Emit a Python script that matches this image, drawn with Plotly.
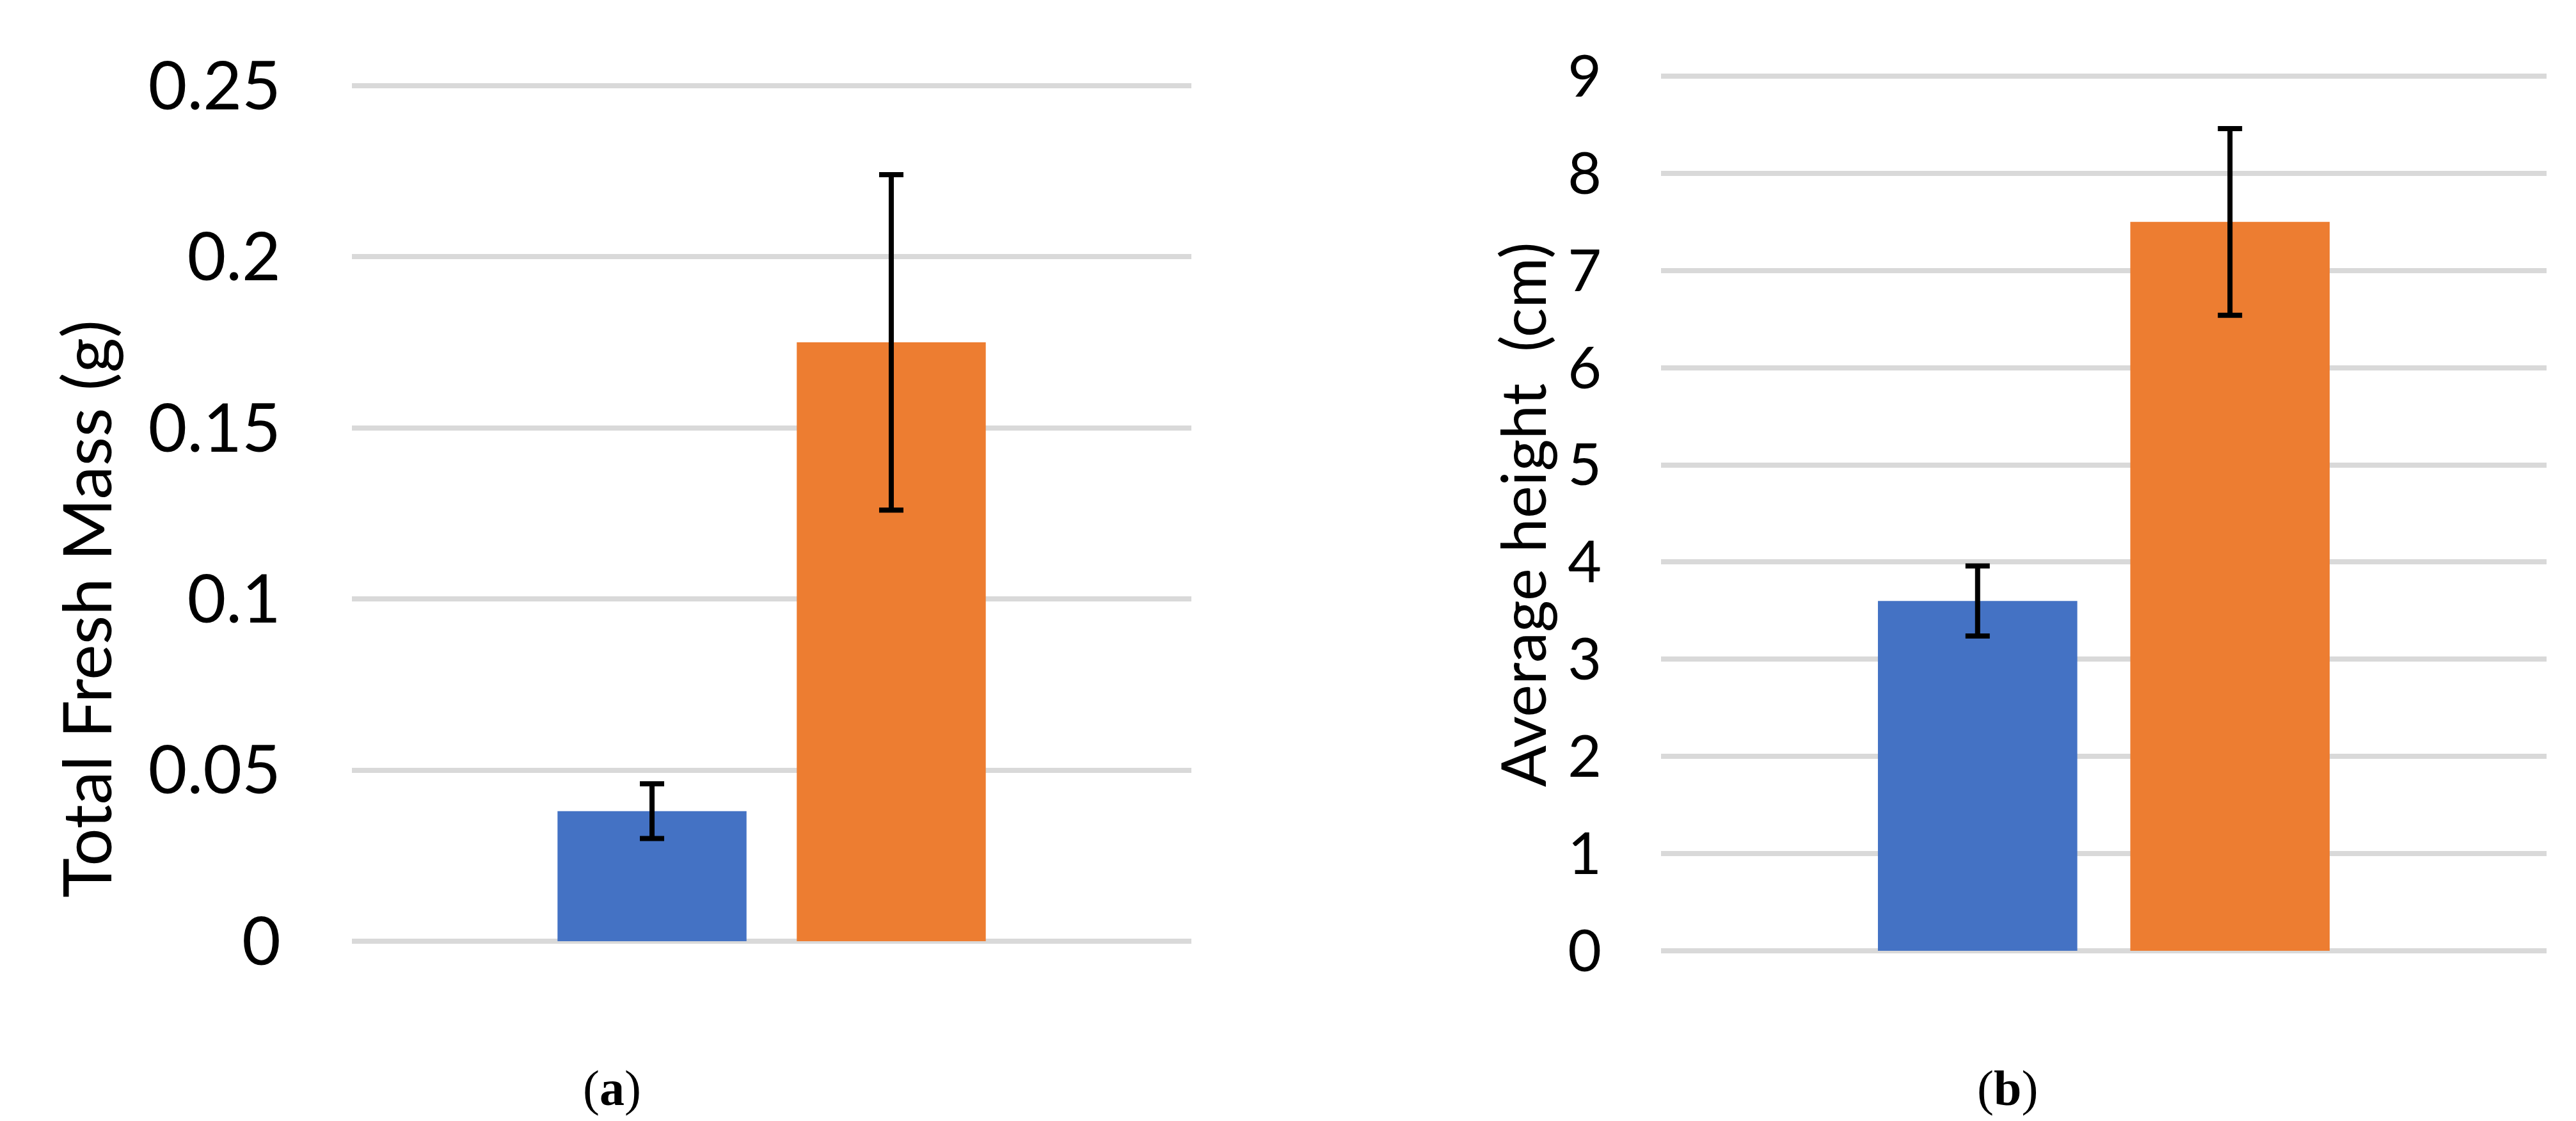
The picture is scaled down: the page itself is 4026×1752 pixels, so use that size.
import plotly.graph_objects as go
from plotly.subplots import make_subplots

# values
groups = ["Group 1", "Group 2"]
colors = ["#4472C4", "#ED7D31"]

mass_mean = [0.038, 0.175]
mass_err = [0.008, 0.049]
mass_ticks = [0, 0.05, 0.1, 0.15, 0.2, 0.25]
mass_ticktext = ["0", "0.05", "0.1", "0.15", "0.2", "0.25"]

height_mean = [3.6, 7.5]
height_err = [0.36, 0.96]
height_ticks = list(range(0, 10))
height_ticktext = [str(t) for t in height_ticks]

W, H = 4026, 1752
OFF = 8  # page body margin
grid_col = "#D9D9D9"
font_sans = "Lato, 'Open Sans', sans-serif"


def px(x):
    return (x - OFF) / W


def py(y):
    return (H - (y - OFF)) / H


fig = make_subplots(rows=1, cols=2)

for i, g in enumerate(groups):
    fig.add_trace(go.Bar(
        x=[""], y=[mass_mean[i]], name=g,
        marker=dict(color=colors[i], line=dict(width=0)),
        error_y=dict(type="data", array=[mass_err[i]], color="black",
                     thickness=8, width=19),
        showlegend=False
    ), row=1, col=1)
    fig.add_trace(go.Bar(
        x=[""], y=[height_mean[i]], name=g,
        marker=dict(color=colors[i], line=dict(width=0)),
        error_y=dict(type="data", array=[height_err[i]], color="black",
                     thickness=8, width=19),
        showlegend=False
    ), row=1, col=2)

fig.update_xaxes(showticklabels=False, showgrid=False, zeroline=False,
                 showline=False, automargin=False)


def padded(top_px, bot_px, lo, hi, pad=6):
    # widen range and domain a few pixels so the edge gridlines are drawn
    per = (bot_px - top_px) / (hi - lo)
    d = pad / per
    return ([py(bot_px + pad), py(top_px - pad)], [lo - d, hi + d])


dom_a, rng_a = padded(134, 1471, 0, 0.25)
dom_b, rng_b = padded(119, 1486, 0, 9)

# panel (a)
fig.update_xaxes(domain=[px(550), px(1862)], row=1, col=1)
fig.update_yaxes(domain=dom_a, range=rng_a,
                 tickvals=mass_ticks, ticktext=mass_ticktext,
                 tickfont=dict(family=font_sans, size=105, color="black"),
                 ticklabelstandoff=110,
                 row=1, col=1)
# panel (b)
fig.update_xaxes(domain=[px(2596), px(3980)], row=1, col=2)
fig.update_yaxes(domain=dom_b, range=rng_b,
                 tickvals=height_ticks, ticktext=height_ticktext,
                 tickfont=dict(family=font_sans, size=91, color="black"),
                 ticklabelstandoff=92,
                 row=1, col=2)

fig.update_yaxes(showgrid=True, gridcolor=grid_col, gridwidth=8,
                 zeroline=False, showline=False, ticks="", automargin=False)

fig.add_annotation(text="Total Fresh Mass (g)", textangle=-90,
                   x=px(133), y=py(952), xref="paper", yref="paper",
                   xanchor="center", yanchor="middle", showarrow=False,
                   font=dict(family=font_sans, size=105, color="black"))
fig.add_annotation(text="Average height\u00a0 (cm)", textangle=-90,
                   x=px(2378), y=py(804), xref="paper", yref="paper",
                   xanchor="center", yanchor="middle", showarrow=False,
                   font=dict(family=font_sans, size=96, color="black"))

for lbl, cx in [("a", 956), ("b", 3137)]:
    fig.add_annotation(text=f"(<b>{lbl}</b>)", x=px(cx), y=py(1700),
                       xref="paper", yref="paper", xanchor="center",
                       yanchor="middle", showarrow=False,
                       font=dict(family="'Liberation Serif', 'Times New Roman', serif",
                                 size=78, color="black"))

fig.update_layout(
    width=W, height=H,
    margin=dict(l=0, r=0, t=0, b=0),
    barmode="group", bargap=0.43, bargroupgap=0.21,
    plot_bgcolor="white", paper_bgcolor="white",
)

fig.write_html("out.html")
